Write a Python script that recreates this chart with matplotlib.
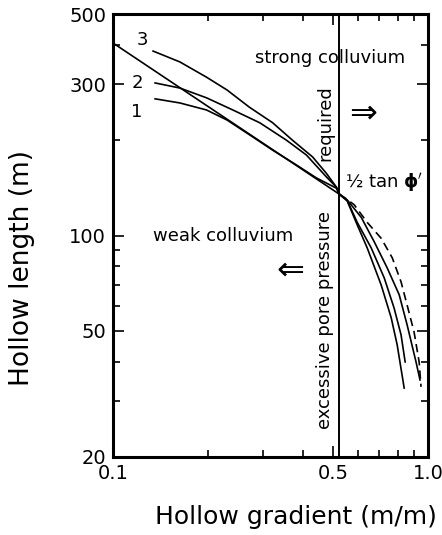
import numpy as np
import matplotlib
matplotlib.use("Agg")
import matplotlib.pyplot as plt
from matplotlib.ticker import FixedLocator, NullFormatter

# values (log-log axes)
# straight theoretical line, continued as the dashed curve
line_x = [0.1, 0.523]
line_y = [405, 135]
dash_x = [0.523, 0.554, 0.583, 0.641, 0.710, 0.770, 0.821, 0.858, 0.903, 0.937, 0.950]
dash_y = [135, 130, 125, 110, 98, 85, 71.4, 60.4, 49.6, 39.9, 33.3]

c3_x = [0.134, 0.163, 0.198, 0.230, 0.271, 0.321, 0.371, 0.430, 0.476, 0.512, 0.523]
c3_y = [382, 353, 316, 288, 254, 227, 200, 177, 157, 142, 135]
c2_x = [0.136, 0.163, 0.198, 0.240, 0.292, 0.355, 0.411, 0.476, 0.512, 0.523]
c2_y = [303, 292, 272, 249, 227, 200, 179.5, 153, 142, 135]
c1_x = [0.136, 0.163, 0.198, 0.230, 0.271, 0.321, 0.382, 0.442, 0.512, 0.523]
c1_y = [270, 262, 249, 231.5, 208, 186, 167, 152, 141, 135]

# right-hand branches of the three curves
r1_x = [0.523, 0.554, 0.614, 0.675, 0.742, 0.810, 0.858, 0.916, 0.943]
r1_y = [135, 129.5, 114, 95.5, 79, 65, 52.3, 39.9, 35]
r2_x = [0.523, 0.554, 0.596, 0.660, 0.726, 0.780, 0.821, 0.846]
r2_y = [135, 129, 110, 91.4, 73.5, 59.1, 48.6, 39.9]
r3_x = [0.523, 0.554, 0.596, 0.641, 0.710, 0.764, 0.798, 0.840]
r3_y = [135, 128.5, 108, 91.4, 69.8, 55, 45.2, 33]

half_tan_phi = 0.523

x_major = [0.1, 0.5, 1.0]
x_labels = ["0.1", "0.5", "1.0"]
x_minor = [0.2, 0.3, 0.4, 0.6, 0.7, 0.8, 0.9]
y_major = [20, 50, 100, 300, 500]
y_labels = ["20", "50", "100", "300", "500"]
y_minor = [30, 40, 60, 70, 80, 90, 200, 400]

fig = plt.figure(figsize=(4.42, 5.35), dpi=100)
ax = fig.add_axes([0.2557, 0.1458, 0.7127, 0.828])
ax.set_xscale("log")
ax.set_yscale("log")
ax.set_xlim(0.1, 1.0)
ax.set_ylim(20, 500)

lw = 1.2
ax.plot(line_x, line_y, color="black", lw=lw)
ax.plot(dash_x, dash_y, color="black", lw=lw, ls=(0, (5, 3)))
for xs, ys in [(c1_x, c1_y), (c2_x, c2_y), (c3_x, c3_y),
               (r1_x, r1_y), (r2_x, r2_y), (r3_x, r3_y)]:
    ax.plot(xs, ys, color="black", lw=lw)
ax.axvline(half_tan_phi, color="black", lw=1.4)

# ticks
ax.xaxis.set_major_locator(FixedLocator(x_major))
ax.xaxis.set_minor_locator(FixedLocator(x_minor))
ax.set_xticklabels(x_labels)
ax.xaxis.set_minor_formatter(NullFormatter())
ax.yaxis.set_major_locator(FixedLocator(y_major))
ax.yaxis.set_minor_locator(FixedLocator(y_minor))
ax.set_yticklabels(y_labels)
ax.yaxis.set_minor_formatter(NullFormatter())
ax.tick_params(which="both", direction="in", top=True, right=True, width=1.2)
ax.tick_params(which="major", length=8, labelsize=14, pad=5)
ax.tick_params(which="minor", length=5)
for s in ax.spines.values():
    s.set_linewidth(2.2)

fig.text(296 / 442, 1 - 517 / 535, "Hollow gradient (m/m)", fontsize=18,
         ha="center", va="center")
fig.text(22 / 442, 1 - 268 / 535, "Hollow length (m)", fontsize=19,
         rotation=90, ha="center", va="center")

# annotations
tk = dict(transform=ax.transAxes, fontsize=13, ha="center", va="center")
ax.text(0.092, 0.941, "3", **tk)
ax.text(0.076, 0.844, "2", **tk)
ax.text(0.076, 0.779, "1", **tk)
ax.text(0.689, 0.901, "strong colluvium", **tk)
ax.text(0.673, 0.754, "required", rotation=90, **tk)
ax.text(0.794, 0.777, "\u21d2", transform=ax.transAxes, fontsize=24,
        ha="center", va="center")
ax.text(0.737, 0.619, "\u00bd tan $\\mathbf{\\phi'}$", transform=ax.transAxes,
        fontsize=13, ha="left", va="center")
ax.text(0.349, 0.499, "weak colluvium", **tk)
ax.text(0.562, 0.422, "\u21d0", transform=ax.transAxes, fontsize=24,
        ha="center", va="center")
ax.text(0.673, 0.309, "excessive pore pressure", rotation=90, **tk)

fig.savefig("out.png", dpi=100)
